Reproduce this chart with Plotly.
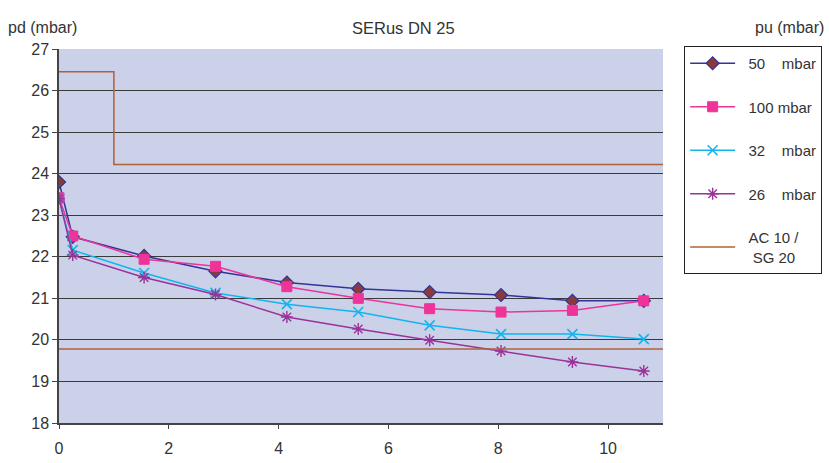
import plotly.graph_objects as go

# flow values (x) and outlet pressure pd (mbar) for each inlet pressure pu
x_flow = [0, 0.25, 1.55, 2.85, 4.15, 5.45, 6.75, 8.05, 9.35, 10.65]
pd_50 = [23.80, 22.48, 22.02, 21.65, 21.38, 21.23, 21.15, 21.08, 20.94, 20.94]
pd_100 = [23.42, 22.50, 21.94, 21.77, 21.28, 21.00, 20.75, 20.67, 20.71, 20.94]
pd_32 = [23.40, 22.16, 21.61, 21.13, 20.86, 20.67, 20.35, 20.14, 20.14, 20.02]
pd_26 = [23.40, 22.04, 21.50, 21.09, 20.55, 20.26, 19.99, 19.73, 19.47, 19.25]

# AC 10 / SG 20 limit lines
limit_up_x = [0, 1, 1, 11]
limit_up_y = [26.45, 26.45, 24.22, 24.22]
limit_low_x = [0, 11]
limit_low_y = [19.78, 19.78]

x_ticks = [0, 2, 4, 6, 8, 10]
y_ticks = [18, 19, 20, 21, 22, 23, 24, 25, 26, 27]
grid_ticks = [19, 20, 21, 22, 23, 24, 25, 26]

NB = "\u00a0"
FONT = "Liberation Sans, Arial, sans-serif"
TXT = "#333333"

fig = go.Figure()

fig.add_trace(go.Scatter(
    x=x_flow, y=pd_50, mode="lines+markers", name=NB * 2 + "50" + NB * 4 + "mbar",
    legendgroup="a",
    line=dict(color="#333399", width=1.5),
    marker=dict(symbol="diamond", size=10, color="#8B3A3A",
                line=dict(color="#333399", width=1.2))))
fig.add_trace(go.Scatter(
    x=x_flow, y=pd_100, mode="lines+markers", name=NB * 2 + "100" + NB + "mbar",
    legendgroup="b",
    line=dict(color="#EE3399", width=1.5),
    marker=dict(symbol="square", size=10, color="#EE3399",
                line=dict(color="#EE3399", width=1))))
fig.add_trace(go.Scatter(
    x=x_flow, y=pd_32, mode="lines+markers", name=NB * 2 + "32" + NB * 4 + "mbar",
    legendgroup="c",
    line=dict(color="#11B5EE", width=1.5),
    marker=dict(symbol="x-thin-open", size=10, color="#11B5EE",
                line=dict(color="#11B5EE", width=1.6))))
fig.add_trace(go.Scatter(
    x=x_flow, y=pd_26, mode="lines+markers", name=NB * 2 + "26" + NB * 4 + "mbar",
    legendgroup="d",
    line=dict(color="#993399", width=1.5),
    marker=dict(symbol="asterisk-open", size=10, color="#993399",
                line=dict(color="#993399", width=1.4))))
fig.add_trace(go.Scatter(
    x=limit_up_x, y=limit_up_y, mode="lines",
    name=NB * 2 + "AC 10 /<br>" + NB * 3 + "SG" + NB + "20",
    legendgroup="e",
    line=dict(color="#B0603A", width=1.5)))
fig.add_trace(go.Scatter(
    x=limit_low_x, y=limit_low_y, mode="lines", showlegend=False,
    legendgroup="e",
    line=dict(color="#B0603A", width=1.5)))

# invisible trace to bind the grid axis
fig.add_trace(go.Scatter(x=[None], y=[None], yaxis="y2", showlegend=False,
                         hoverinfo="skip"))

fig.update_layout(
    width=829, height=463,
    margin=dict(l=59, r=166, t=49, b=40, autoexpand=False),
    paper_bgcolor="white",
    plot_bgcolor="#CCD1EA",
    font=dict(family=FONT, color=TXT, size=15),
    xaxis=dict(range=[0, 11], tickvals=x_ticks, showgrid=False, zeroline=False,
               showline=True, linecolor="#444444", linewidth=1.5,
               ticks="outside", ticklen=4, tickcolor="#444444",
               ticklabelstandoff=6, automargin=False,
               tickfont=dict(size=16, color=TXT, family=FONT)),
    yaxis=dict(range=[18, 27], tickvals=y_ticks, showgrid=False, zeroline=False,
               showline=True, linecolor="#444444", linewidth=1.5,
               ticks="outside", ticklen=5, tickcolor="#444444",
               automargin=False,
               tickfont=dict(size=16, color=TXT, family=FONT)),
    yaxis2=dict(range=[18, 27], overlaying="y", tickvals=grid_ticks,
                showticklabels=False, showgrid=True, gridcolor="#3a3a3a",
                gridwidth=1.2, zeroline=False, showline=False,
                automargin=False),
    legend=dict(x=1.035, y=1.008, xanchor="left", yanchor="top",
                bordercolor="#222222", borderwidth=1, bgcolor="white",
                font=dict(size=15, color=TXT, family=FONT),
                tracegroupgap=21, itemwidth=45, entrywidth=100,
                ),
    showlegend=True,
    annotations=[
        dict(text="SERus DN 25", xref="paper", yref="paper", x=0.571, y=1.0857,
             showarrow=False, font=dict(size=16.5, color=TXT, family=FONT)),
        dict(text="pd (mbar)", xref="paper", yref="paper", x=-0.0878, y=1.0857,
             xanchor="left", showarrow=False,
             font=dict(size=16, color=TXT, family=FONT)),
        dict(text="pu (mbar)", xref="paper", yref="paper", x=1.2695, y=1.0857,
             xanchor="right", showarrow=False,
             font=dict(size=16, color=TXT, family=FONT)),
    ],
)

fig.write_html("out.html",
               config={"displayModeBar": False},
               post_script="document.body.style.margin='0';"
                           "document.body.style.overflow='hidden';")
